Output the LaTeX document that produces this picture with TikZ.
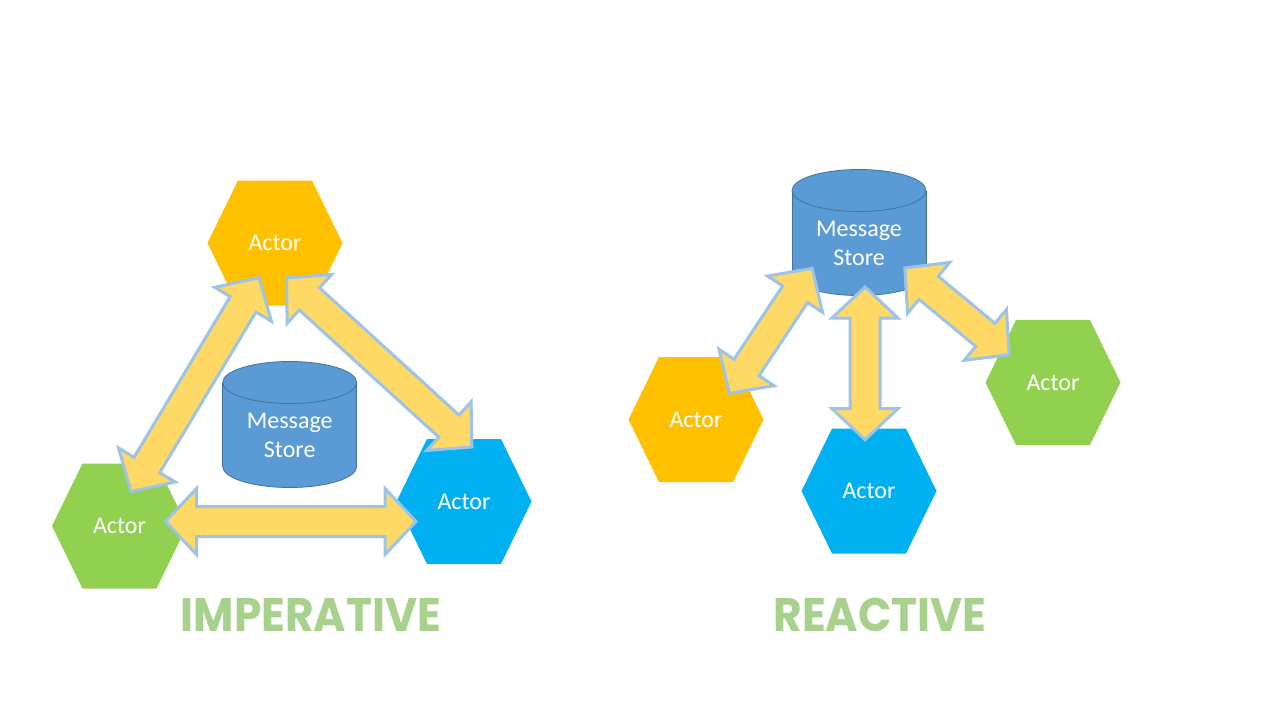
\documentclass[tikz,border=0pt]{standalone}
\usepackage{fontspec}
\setmainfont{Carlito}
\newfontfamily\titlefont{Poppins}
\usetikzlibrary{calc}
\definecolor{actorOrange}{HTML}{FFC000}
\definecolor{actorBlue}{HTML}{00B0F0}
\definecolor{actorGreen}{HTML}{92D050}
\definecolor{storeFill}{HTML}{5B9BD5}
\definecolor{storeLine}{HTML}{41719C}
\definecolor{arrowFill}{HTML}{FFD966}
\definecolor{arrowLine}{HTML}{9DC3E6}
\definecolor{titleGreen}{HTML}{A9D18E}
\def\arrHL{31pt}
\def\arrHW{33pt}
\def\arrSW{15pt}
\tikzset{
  actortext/.style={text=white, inner sep=0pt, font=\fontsize{24}{28}\selectfont},
  storetext/.style={text=white, inner sep=0pt, align=center, font=\fontsize{24}{29}\selectfont},
  storebody/.style={fill=storeFill, draw=storeLine, line width=0.8pt},
  barrow/.style={fill=arrowFill, draw=arrowLine, line width=3pt, line join=miter},
  titletext/.style={text=titleGreen, inner sep=0pt, anchor=base, font=\fontsize{47}{50}\selectfont\titlefont\bfseries}
}
\newcommand\hexactor[3]{%
  \fill[#3] (#2) ++(-67.5,0) -- ++(30.5,-62.5) -- ++(74,0) -- ++(30.5,62.5) -- ++(-30.5,62.5) -- ++(-74,0) -- cycle;
  \node[actortext] (#1) at (#2) {Actor};}
\newcommand\msgstore[2]{%
  \filldraw[storebody] (#2) ++(0,84) ellipse [x radius=67, y radius=21];
  \fill[storeFill] (#2) ++(-67,0) rectangle ++(134,84);
  \draw[storeLine, line width=0.8pt] (#2) ++(-67,0) -- ++(0,84) (#2) ++(67,0) -- ++(0,84);
  \filldraw[storebody] (#2) ellipse [x radius=67, y radius=21];
  \node[storetext] (#1) at ($(#2)+(0,52.5)$) {Message\\Store};}
\newcommand\blockarrow[2]{%
  \coordinate (ba) at ($(#1)!\arrHL!(#2)$);
  \coordinate (bb) at ($(#2)!\arrHL!(#1)$);
  \draw[barrow] (#1)
    -- ($(ba)!\arrHW!90:(#2)$)
    -- ($(ba)!\arrSW!90:(#2)$)
    -- ($(bb)!\arrSW!-90:(#1)$)
    -- ($(bb)!\arrHW!-90:(#1)$)
    -- (#2)
    -- ($(bb)!\arrHW!90:(#1)$)
    -- ($(bb)!\arrSW!90:(#1)$)
    -- ($(ba)!\arrSW!-90:(#2)$)
    -- ($(ba)!\arrHW!-90:(#2)$)
    -- cycle;}
\begin{document}
\begin{tikzpicture}[x=1pt, y=-1pt]
\useasboundingbox[fill=white] (0,0) rectangle (1280,720);

% ---------- IMPERATIVE ----------
\hexactor{orangeL}{275,243}{actorOrange}
\hexactor{greenL}{119.5,526}{actorGreen}
\hexactor{blueL}{464,501.5}{actorBlue}
\msgstore{storeL}{289.7,382.5}

\coordinate (l1a) at (131,491.6);
\coordinate (l1b) at (259,277.7);
\coordinate (l2a) at (286.5,278);
\coordinate (l2b) at (471.8,447);
\coordinate (l3a) at (165.5,521.5);
\coordinate (l3b) at (416,521.5);
\blockarrow{l1a}{l1b}
\blockarrow{l2a}{l2b}
\blockarrow{l3a}{l3b}

\node[titletext] (titleL) at (311,631.5) {\scalebox{0.935}[1]{IMPERATIVE}};

% ---------- REACTIVE ----------
\msgstore{storeR}{859,190.5}
\hexactor{orangeR}{696,419.5}{actorOrange}
\hexactor{blueR}{869,491}{actorBlue}
\hexactor{greenR}{1053,382.5}{actorGreen}

\coordinate (r1a) at (729.4,393.3);
\coordinate (r1b) at (812.2,268.4);
\coordinate (r2a) at (865,287);
\coordinate (r2b) at (865,439.7);
\coordinate (r3a) at (904.8,268);
\coordinate (r3b) at (1009.2,354.7);
\blockarrow{r1a}{r1b}
\blockarrow{r2a}{r2b}
\blockarrow{r3a}{r3b}

\node[titletext] (titleR) at (880,631.5) {\scalebox{0.935}[1]{REACTIVE}};
\end{tikzpicture}
\end{document}
